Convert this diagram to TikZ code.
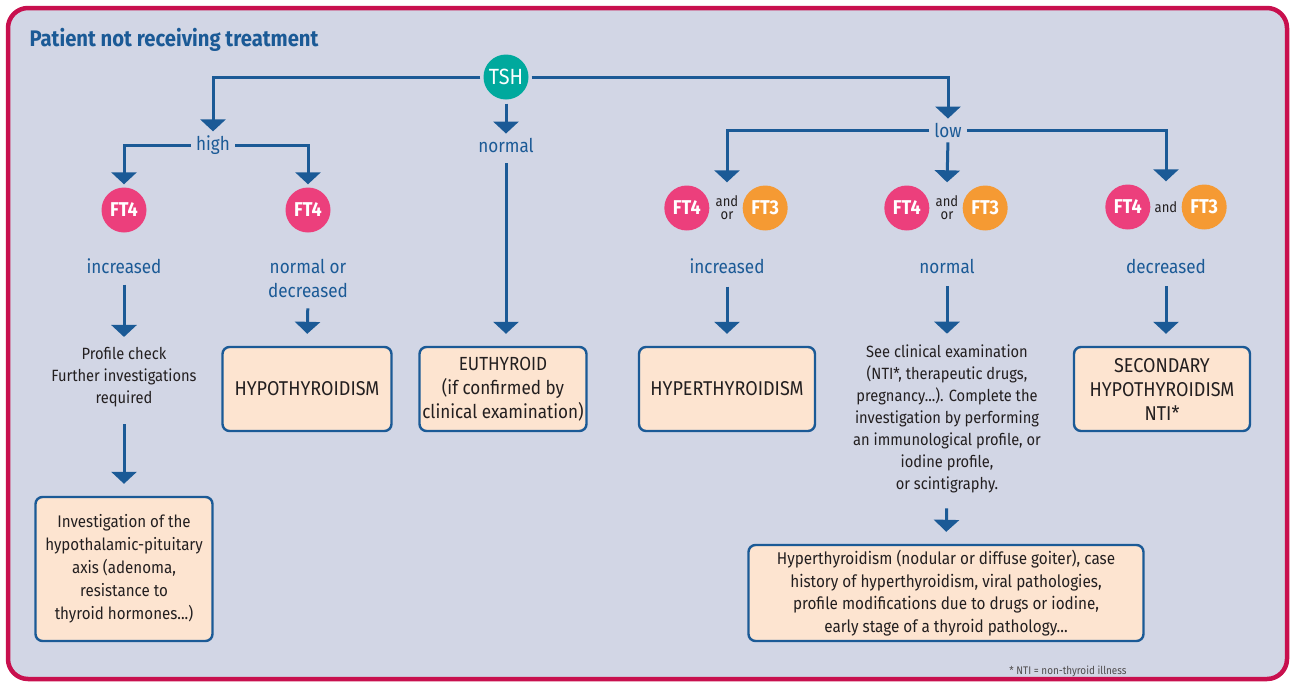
\documentclass[tikz,border=0pt]{standalone}
\usepackage{fontspec}
\setmainfont{Fira Sans}[FakeStretch=0.9]
\usetikzlibrary{arrows.meta,positioning}
\definecolor{framered}{HTML}{C8104E}
\definecolor{panel}{HTML}{D2D6E5}
\definecolor{flow}{HTML}{1B5A96}
\definecolor{peach}{HTML}{FDE4D0}
\definecolor{tshgreen}{HTML}{00A99D}
\definecolor{ftpink}{HTML}{EC3F7C}
\definecolor{ftorange}{HTML}{F59A33}
\definecolor{ink}{HTML}{231F20}
\tikzset{
  lvl/.style={text=flow, inner sep=1pt, align=center, font=\fontsize{19}{24}\selectfont},
  res/.style={rectangle, draw=flow, fill=peach, line width=2.4pt, rounded corners=7pt,
    text=ink, align=center, font=\fontsize{20}{24}\selectfont},
  note/.style={text=ink, align=center, inner sep=1pt, font=\fontsize{16.3}{22}\selectfont},
  test/.style={circle, minimum size=45pt, inner sep=0pt, text=white,
    font=\bfseries\fontsize{20}{20}\selectfont},
  andor/.style={text=ink, align=center, inner sep=1pt, font=\fontsize{14.5}{13}\selectfont},
  arr/.style={draw=flow, line width=3pt, -{Triangle[width=25pt,length=12pt]},
    shorten <=6pt, shorten >=3pt},
  boxarr/.style={arr, shorten >=12pt}
}
\begin{document}
\begin{tikzpicture}[x=1pt,y=-1pt]
\useasboundingbox (0,0) rectangle (1294,681);
\draw [framered, line width=4.5pt, fill=panel, rounded corners=20pt] (8,8) rectangle (1287,679);
\node [anchor=west, text=flow, font=\bfseries\fontsize{22.5}{24}\selectfont] (title) at (26,40) {Patient not receiving treatment};

% first level
\node [test, fill=tshgreen, font=\fontsize{22}{22}\selectfont] (tsh) at (506,77) {TSH};
\node [lvl] (high) at (213,145) {high};
\node [lvl] (normal) at (506,145) {normal};
\node [lvl] (low) at (948,130) {low};
\draw [arr, shorten <=3pt] (tsh.west) -| (high.north);
\draw [arr, shorten <=4pt] (tsh.south) -- (normal.north);
\draw [arr, shorten <=3pt] (tsh.east) -| (low.north);

% high branch
\node [test, fill=ftpink] (ft4a) at (124,210) {FT4};
\node [test, fill=ftpink] (ft4b) at (308,210) {FT4};
\draw [arr, shorten <=4pt] (high.west) -| (ft4a.north);
\draw [arr, shorten <=4pt] (high.east) -| (ft4b.north);
\node [lvl] (incra) at (124,266) {increased};
\node [lvl] (nordec) at (308,278) {normal or\\decreased};
\node [note] (check) at (124,377) {Profile check\\Further investigations\\required};
\node [res, minimum width=169pt, minimum height=84pt] (hypo) at (307,389) {HYPOTHYROIDISM};
\node [res, minimum width=177pt, minimum height=144pt, font=\fontsize{16.8}{23}\selectfont] (axis) at (124,569)
  {Investigation of the\\hypothalamic-pituitary\\axis (adenoma,\\resistance to\\thyroid hormones...)};
\draw [arr, shorten <=10pt, shorten >=9pt] (incra.south) -- (check.north);
\draw [boxarr, shorten <=10pt] (nordec.south) -- (hypo.north);
\draw [boxarr, shorten <=16pt] (check.south) -- (axis.north);

% normal branch
\node [res, minimum width=167pt, minimum height=84pt, inner sep=2pt, font=\fontsize{19}{24}\selectfont] (euthy) at (503,389)
  {EUTHYROID\\(if confirmed by\\clinical examination)};
\draw [boxarr, shorten <=10pt] (normal.south) -- (normal.south |- euthy.north);

% low branch
\node [andor] (ando1) at (727,208) {and\\or};
\node [test, fill=ftpink, left=5pt of ando1] (ft4c) {FT4};
\node [test, fill=ftorange, right=3pt of ando1] (ft3c) {FT3};
\node [andor] (ando2) at (947,208) {and\\or};
\node [test, fill=ftpink, left=5pt of ando2] (ft4d) {FT4};
\node [test, fill=ftorange, right=3pt of ando2] (ft3d) {FT3};
\node [andor] (ando3) at (1166,207) {and};
\node [test, fill=ftpink, left=3pt of ando3] (ft4e) {FT4};
\node [test, fill=ftorange, right=3pt of ando3] (ft3e) {FT3};
\draw [arr, shorten <=4pt] (low.west) -| (ando1 |- ft4c.north);
\draw [arr, shorten <=4pt] (low.south) -- (ando2 |- ft4d.north);
\draw [arr, shorten <=4pt] (low.east) -| (ando3 |- ft4e.north);
\node [lvl] (incrb) at (727,266) {increased};
\node [lvl] (normb) at (947,266) {normal};
\node [lvl] (decr) at (1166,266) {decreased};
\node [res, minimum width=176pt, minimum height=84pt] (hyper) at (727,389) {HYPERTHYROIDISM};
\node [note] (exam) at (947,419) {See clinical examination\\(NTI*, therapeutic drugs,\\pregnancy...). Complete the\\investigation by performing\\an immunological profile, or\\iodine profile,\\or scintigraphy.};
\node [res, minimum width=176pt, minimum height=84pt] (second) at (1162,389) {SECONDARY\\HYPOTHYROIDISM\\NTI*};
\node [res, minimum width=395pt, minimum height=96pt, font=\fontsize{17}{22.5}\selectfont] (causes) at (946,593)
  {Hyperthyroidism (nodular or diffuse goiter), case\\history of hyperthyroidism, viral pathologies,\\profile modifications due to drugs or iodine,\\early stage of a thyroid pathology...};
\draw [boxarr, shorten <=12pt] (incrb.south) -- (hyper.north);
\draw [arr, shorten <=12pt, shorten >=10pt] (normb.south) -- (exam.north);
\draw [boxarr, shorten <=12pt] (decr.south) -- (decr.south |- second.north);
\draw [boxarr, shorten <=14pt] (exam.south) -- (causes.north);

\node [text=ink!80, font=\fontsize{11}{12}\selectfont] (fn) at (1068,671) {* NTI = non-thyroid illness};
\end{tikzpicture}
\end{document}
